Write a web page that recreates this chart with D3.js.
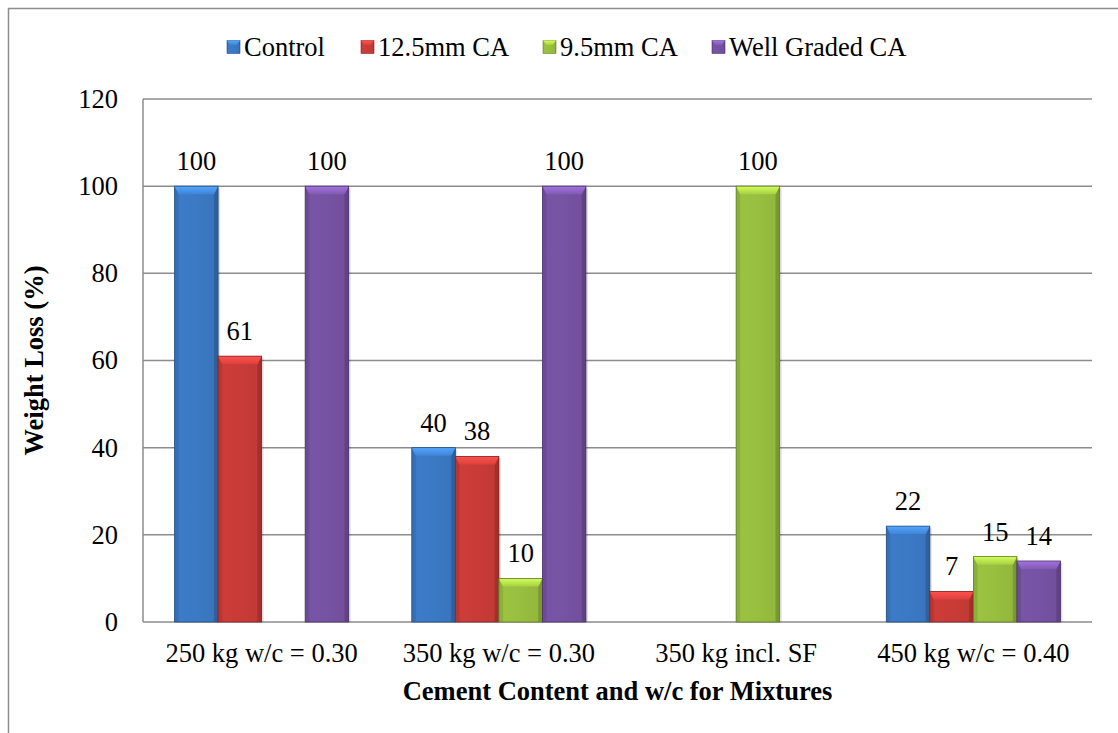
<!DOCTYPE html>
<html>
<head>
<meta charset="utf-8">
<script src="https://cdn.jsdelivr.net/npm/d3@7"></script>
<style>
  html, body { margin: 0; padding: 0; background: #fff; }
  svg { display: block; }
</style>
</head>
<body>
<svg id="chart" width="1118" height="733"></svg>
<script>
// Mixtures on the x axis
const categories = ["250 kg w/c = 0.30", "350 kg w/c = 0.30", "350 kg incl. SF", "450 kg w/c = 0.40"];
// Series names (legend order)
const seriesNames = ["Control", "12.5mm CA", "9.5mm CA", "Well Graded CA"];
// Weight loss (%) per series; null = no bar
const controlValues = [100, 40, null, 22];
const ca125Values   = [61, 38, null, 7];
const ca95Values    = [null, 10, 100, 15];
const wellGradedValues = [100, 100, null, 14];
const yTicks = [0, 20, 40, 60, 80, 100, 120];

const seriesValues = [controlValues, ca125Values, ca95Values, wellGradedValues];
const seriesColors = ["#3b79c4", "#c93b38", "#98bf3f", "#7653a3"];

const FONT = "'Liberation Serif', 'Times New Roman', serif";
const FS = 26.5;

const svg = d3.select("#chart");
const W = 1118, H = 733;
const plot = { left: 143, right: 1092, top: 99, bottom: 622 };

function serif(sel, size, bold) {
  return sel.style("font-family", FONT)
    .style("font-size", size + "px")
    .style("font-weight", bold ? "bold" : "normal")
    .style("fill", "#000");
}

// Outer chart frame
svg.append("rect")
  .attr("x", 8.5).attr("y", 8.5)
  .attr("width", W + 20).attr("height", H + 20)
  .attr("fill", "none").attr("stroke", "#8c8c8c").attr("stroke-width", 1.5);

const x0 = d3.scaleBand().domain(categories).range([plot.left, plot.right]).paddingInner(0).paddingOuter(0);
const groupW = x0.bandwidth();
const barW = groupW / (4 + 1.45);
const x1 = d3.scaleBand().domain(seriesNames).range([0, barW * 4]);
const y = d3.scaleLinear().domain([0, 120]).range([plot.bottom, plot.top]);

// Gridlines
svg.append("g").selectAll("line").data(yTicks).join("line")
  .attr("x1", plot.left).attr("x2", plot.right)
  .attr("y1", d => y(d)).attr("y2", d => y(d))
  .attr("stroke", "#8c8c8c").attr("stroke-width", 1.5);
// Value axis line
svg.append("line")
  .attr("x1", plot.left).attr("x2", plot.left)
  .attr("y1", plot.top).attr("y2", plot.bottom)
  .attr("stroke", "#8c8c8c").attr("stroke-width", 1.5);

// Y axis tick labels
const yAxis = d3.axisLeft(y).tickValues(yTicks).tickSize(0).tickPadding(25);
const yg = svg.append("g").attr("transform", `translate(${plot.left},0)`).call(yAxis);
yg.select(".domain").remove();
serif(yg.selectAll("text"), FS, false);

// X axis category labels
const xAxis = d3.axisBottom(x0).tickSize(0).tickPadding(21);
const xg = svg.append("g").attr("transform", `translate(0,${plot.bottom})`).call(xAxis);
xg.select(".domain").remove();
serif(xg.selectAll("text"), FS, false);

// Gradients for bevelled bars
const defs = svg.append("defs");
seriesColors.forEach((c, i) => {
  const g = defs.append("linearGradient").attr("id", "body" + i)
    .attr("x1", "0").attr("x2", "1").attr("y1", "0").attr("y2", "0");
  const base = d3.color(c);
  g.append("stop").attr("offset", "0").attr("stop-color", base.darker(0.25));
  g.append("stop").attr("offset", "0.12").attr("stop-color", base.brighter(0.05));
  g.append("stop").attr("offset", "0.5").attr("stop-color", base);
  g.append("stop").attr("offset", "0.88").attr("stop-color", base.darker(0.1));
  g.append("stop").attr("offset", "1").attr("stop-color", base.darker(0.6));
  const t = defs.append("linearGradient").attr("id", "top" + i)
    .attr("x1", "0").attr("x2", "0").attr("y1", "0").attr("y2", "1");
  t.append("stop").attr("offset", "0").attr("stop-color", base.brighter(0.9));
  t.append("stop").attr("offset", "1").attr("stop-color", base.brighter(0.25));
});

const bars = [];
seriesValues.forEach((vals, si) => {
  vals.forEach((v, ci) => {
    if (v === null) return;
    const gx = x0(categories[ci]) + (groupW - barW * 4) / 2 + x1(seriesNames[si]);
    bars.push({ si, v, x: gx, w: x1.bandwidth(), yTop: y(v), yBot: y(0) });
  });
});

const barG = svg.append("g");
bars.forEach(b => {
  const g = barG.append("g");
  const bev = 8, side = 4;
  const h = b.yBot - b.yTop;
  const base = d3.color(seriesColors[b.si]);
  // soft shadow
  g.append("rect").attr("x", b.x + 2).attr("y", b.yTop + 2).attr("width", b.w).attr("height", h - 2)
    .attr("fill", "#000").attr("opacity", 0.12);
  g.append("rect").attr("x", b.x).attr("y", b.yTop).attr("width", b.w).attr("height", h)
    .attr("fill", `url(#body${b.si})`);
  // right bevel strip
  g.append("path")
    .attr("d", `M${b.x + b.w},${b.yTop} L${b.x + b.w - side},${b.yTop + bev} L${b.x + b.w - side},${b.yBot} L${b.x + b.w},${b.yBot}Z`)
    .attr("fill", base.darker(0.7)).attr("opacity", 0.8);
  // left bevel strip
  g.append("path")
    .attr("d", `M${b.x},${b.yTop} L${b.x + side},${b.yTop + bev} L${b.x + side},${b.yBot} L${b.x},${b.yBot}Z`)
    .attr("fill", base.darker(0.3)).attr("opacity", 0.7);
  // top bevel
  g.append("path")
    .attr("d", `M${b.x},${b.yTop} L${b.x + b.w},${b.yTop} L${b.x + b.w - side},${b.yTop + bev} L${b.x + side},${b.yTop + bev}Z`)
    .attr("fill", `url(#top${b.si})`);
  g.append("rect").attr("x", b.x).attr("y", b.yTop).attr("width", b.w).attr("height", h)
    .attr("fill", "none").attr("stroke", base.darker(1.2)).attr("stroke-width", 0.8);
});

// Data labels
serif(svg.append("g").selectAll("text").data(bars).join("text")
  .attr("x", b => b.x + b.w / 2)
  .attr("y", b => b.yTop - 16)
  .attr("text-anchor", "middle")
  .text(b => b.v), FS, false);

// Axis titles
serif(svg.append("text")
  .attr("transform", `translate(43,${(plot.top + plot.bottom) / 2}) rotate(-90)`)
  .attr("text-anchor", "middle")
  .text("Weight Loss (%)"), FS, true);
serif(svg.append("text")
  .attr("x", (plot.left + plot.right) / 2).attr("y", 700)
  .attr("text-anchor", "middle")
  .text("Cement Content and w/c for Mixtures"), FS, true);

// Legend
const legendX = [227, 361, 543, 712];
const lg = svg.append("g");
seriesNames.forEach((n, i) => {
  const item = lg.append("g").attr("transform", `translate(${legendX[i]},47)`);
  item.append("rect").attr("x", 0).attr("y", -6.5).attr("width", 13).attr("height", 13)
    .attr("fill", `url(#body${i})`).attr("stroke", d3.color(seriesColors[i]).darker(1)).attr("stroke-width", 0.6);
  item.append("path").attr("d", "M0,-6.5 L13,-6.5 L9.5,-2 L3.5,-2Z").attr("fill", `url(#top${i})`);
  serif(item.append("text").attr("x", 17).attr("y", 9).text(n), FS, false);
});
</script>
</body>
</html>
